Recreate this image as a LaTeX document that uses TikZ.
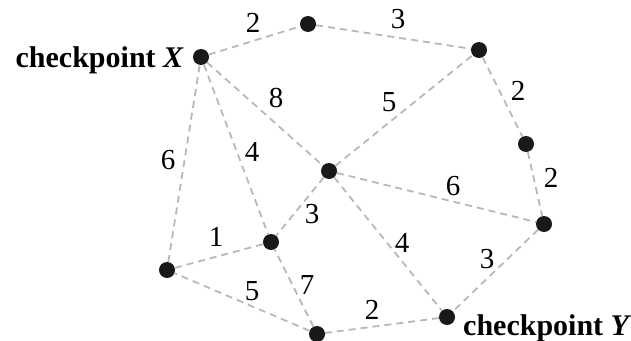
\documentclass[tikz,border=0pt]{standalone}
\usepackage{fontspec}
\setmainfont{Liberation Serif}
\usetikzlibrary{positioning}

\begin{document}
\begin{tikzpicture}[
  x=1pt, y=-1pt,
  stop/.style={circle, fill=black!90, inner sep=0pt, minimum size=16pt},
  road/.style={draw=black!28, line width=1.8pt, dash pattern=on 7pt off 5pt},
  wt/.style={font=\fontsize{29}{32}\selectfont, inner sep=0pt},
  lbl/.style={font=\fontsize{30}{33}\selectfont\bfseries, inner sep=0pt}
]
\useasboundingbox (0,0) rectangle (631,340);
% stops
\node[stop] (X) at (201,57) {};
\node[stop] (t) at (308,24) {};
\node[stop] (tr) at (479,50) {};
\node[stop] (r1) at (526,144) {};
\node[stop] (r2) at (544,224) {};
\node[stop] (c) at (329,171) {};
\node[stop] (m) at (271,242) {};
\node[stop] (l) at (167,270) {};
\node[stop] (b) at (317,334) {};
\node[stop] (Y) at (447,317) {};
% roads with their lengths
\foreach \a/\b/\w/\lx/\ly in {
  X/t/2/253/23, t/tr/3/398/19, tr/r1/2/518/91, r1/r2/2/551/178,
  r2/Y/3/487/259, Y/b/2/372/310, b/m/7/307/285, b/l/5/252/291,
  l/m/1/216/237, l/X/6/168/160, X/m/4/252/152, X/c/8/276/98,
  c/tr/5/389/102, c/r2/6/453/186, c/m/3/312/214, c/Y/4/402/243} {
  \draw[road] (\a) -- (\b);
  \node[wt] (w\a\b) at (\lx,\ly) {\w};
}
\node[lbl, anchor=base east] (cpX) at (184,67) {checkpoint \textit{X}};
\node[lbl, anchor=base west] (cpY) at (463,335) {checkpoint \textit{Y}};
\end{tikzpicture}
\end{document}
